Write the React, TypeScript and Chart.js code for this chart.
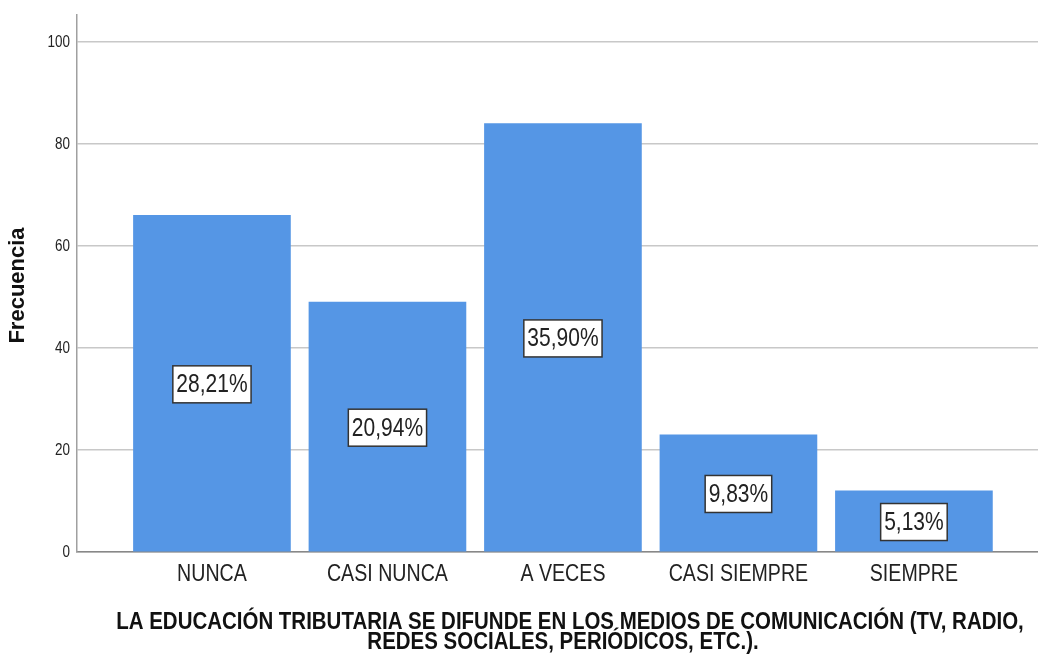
import React, { useEffect, useRef } from "react";
import { Chart, registerables } from "chart.js";

Chart.register(...registerables);

const categories = ["NUNCA", "CASI NUNCA", "A VECES", "CASI SIEMPRE", "SIEMPRE"];
const frequencies = [66, 49, 84, 23, 12];
const percentLabels = ["28,21%", "20,94%", "35,90%", "9,83%", "5,13%"];
const yTickValues = [0, 20, 40, 60, 80, 100];
const xTitleLines = [
  "LA EDUCACIÓN TRIBUTARIA SE DIFUNDE EN LOS MEDIOS DE COMUNICACIÓN (TV, RADIO,",
  "REDES SOCIALES, PERIÓDICOS, ETC.).",
];
const yTitle = "Frecuencia";

const SANS = "'Liberation Sans', Arial, sans-serif";

function drawText(
  ctx: CanvasRenderingContext2D,
  text: string,
  x: number,
  y: number,
  font: string,
  sx: number,
  align: CanvasTextAlign,
  color: string
) {
  ctx.save();
  ctx.font = font;
  ctx.fillStyle = color;
  ctx.textAlign = align;
  ctx.textBaseline = "middle";
  ctx.translate(x, y);
  ctx.scale(sx, 1);
  ctx.fillText(text, 0, 0);
  ctx.restore();
}

const overlayPlugin = {
  id: "overlay",
  afterDatasetsDraw(chart: any) {
    const ctx = chart.ctx as CanvasRenderingContext2D;
    const meta = chart.getDatasetMeta(0);
    const sx = 0.84;
    const font = `25px ${SANS}`;
    meta.data.forEach((bar: any, i: number) => {
      const label = percentLabels[i];
      const cx = bar.x;
      const cy = (bar.y + bar.base) / 2 + 1;
      ctx.save();
      ctx.font = font;
      const w = ctx.measureText(label).width * sx + 7;
      ctx.restore();
      const h = 37;
      ctx.save();
      ctx.fillStyle = "#ffffff";
      ctx.fillRect(cx - w / 2, cy - h / 2, w, h);
      ctx.strokeStyle = "#333333";
      ctx.lineWidth = 1.5;
      ctx.strokeRect(cx - w / 2, cy - h / 2, w, h);
      ctx.restore();
      drawText(ctx, label, cx, cy + 1, font, sx, "center", "#222222");
    });
  },
  afterDraw(chart: any) {
    const ctx = chart.ctx as CanvasRenderingContext2D;
    const area = chart.chartArea;
    const xScale = chart.scales.x;
    const yScale = chart.scales.y;
    // x tick labels
    categories.forEach((c, i) => {
      drawText(ctx, c, xScale.getPixelForValue(i), area.bottom + 23, `23px ${SANS}`, 0.853, "center", "#222222");
    });
    // y tick labels
    yTickValues.forEach((v) => {
      drawText(ctx, String(v), area.left - 7, yScale.getPixelForValue(v) + 1, `16px ${SANS}`, 0.84, "right", "#222222");
    });
    // y title
    ctx.save();
    ctx.font = `bold 22px ${SANS}`;
    ctx.fillStyle = "#111111";
    ctx.textAlign = "center";
    ctx.textBaseline = "middle";
    ctx.translate(18, (area.top + area.bottom) / 2 + 2);
    ctx.rotate(-Math.PI / 2);
    ctx.fillText(yTitle, 0, 0);
    ctx.restore();
    // x title
    const titleCenters = [570, 563];
    xTitleLines.forEach((line, i) => {
      drawText(ctx, line, titleCenters[i], area.bottom + 71 + i * 20, `bold 23px ${SANS}`, 0.89, "center", "#111111");
    });
  },
};

export default function App() {
  const canvasRef = useRef<HTMLCanvasElement | null>(null);

  useEffect(() => {
    if (!canvasRef.current) return;
    const chart = new Chart(canvasRef.current, {
      type: "bar",
      data: {
        datasets: [
          {
            data: frequencies.map((f, i) => ({ x: i, y: f })),
            backgroundColor: "#5596E5",
            borderWidth: 0,
            barThickness: 157,
          },
        ],
      },
      options: {
        animation: false,
        responsive: false,
        layout: { padding: { top: 15, left: 0, right: 0, bottom: 0 } },
        plugins: {
          legend: { display: false },
          tooltip: { enabled: false },
          title: { display: false },
        },
        scales: {
          x: {
            type: "linear",
            offset: false,
            min: -0.769,
            max: 4.707,
            afterBuildTicks: (scale: any) => {
              scale.ticks = categories.map((_, i) => ({ value: i }));
            },
            afterFit: (scale: any) => {
              scale.height = 104;
            },
            grid: { display: false, drawTicks: false, offset: false },
            border: { display: true, color: "#888888", width: 1.5 },
            ticks: { display: false },
          },
          y: {
            min: 0,
            max: 105.3,
            afterBuildTicks: (scale: any) => {
              scale.ticks = yTickValues.map((v) => ({ value: v }));
            },
            afterFit: (scale: any) => {
              scale.width = 77;
            },
            grid: { color: "#c8c8c8", lineWidth: 1.5, drawTicks: false },
            border: { display: true, color: "#a0a0a0", width: 1.5 },
            ticks: { display: false },
          },
        },
      },
      plugins: [overlayPlugin],
    } as any);
    return () => chart.destroy();
  }, []);

  return (
    <div style={{ position: "fixed", left: 0, top: 0, width: 1038, height: 656, background: "#fff" }}>
      <canvas ref={canvasRef} width={1038} height={656} />
    </div>
  );
}
